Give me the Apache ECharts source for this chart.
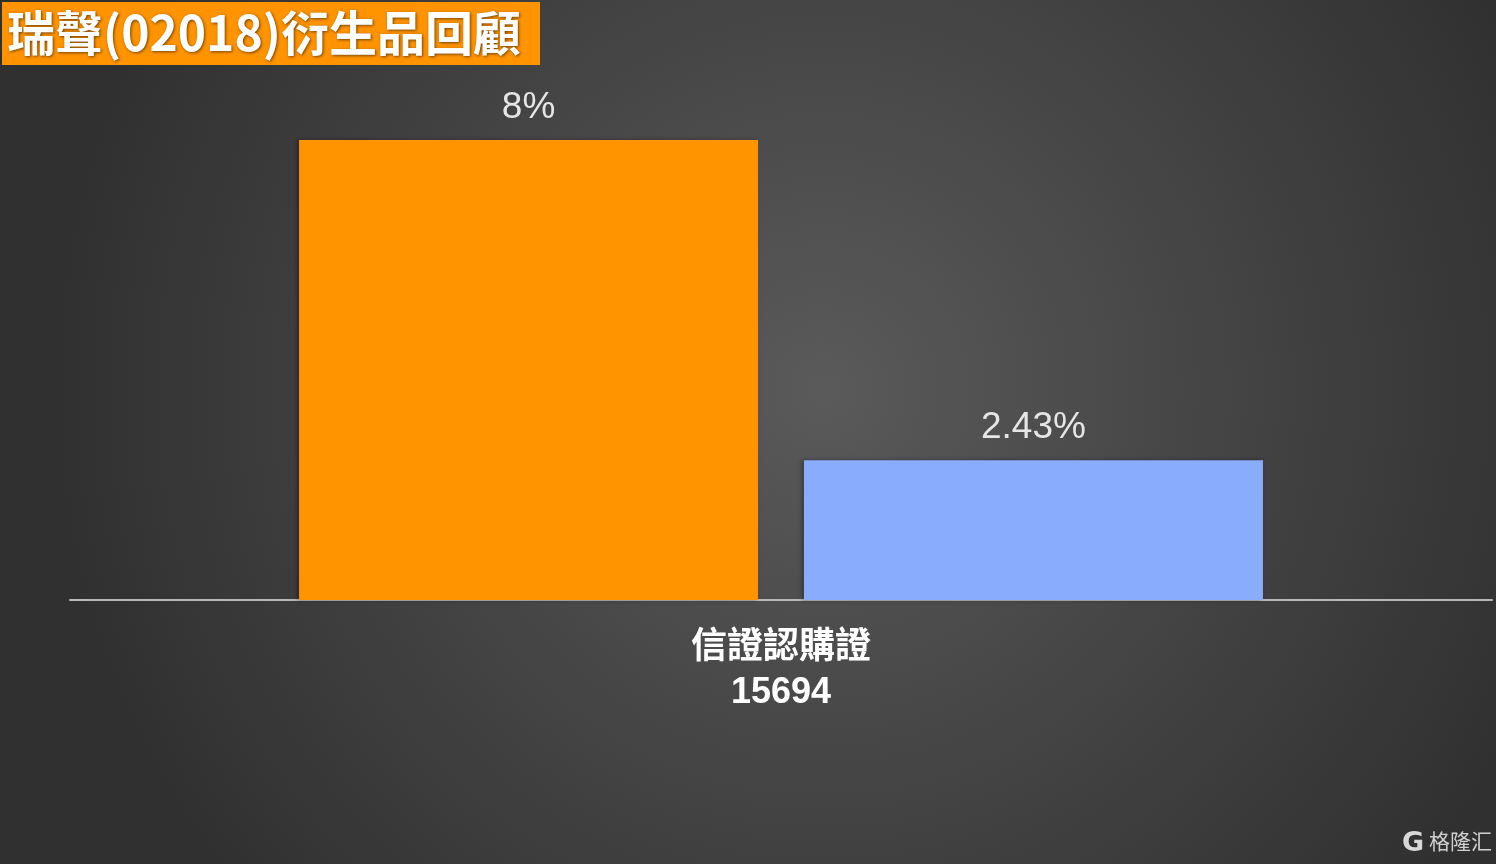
<!DOCTYPE html>
<html>
<head>
<meta charset="utf-8">
<script src="https://cdn.jsdelivr.net/npm/echarts@6/dist/echarts.min.js"></script>
<style>
html,body{margin:0;padding:0;background:#333;}
#c{width:1496px;height:864px;}
</style>
</head>
<body>
<div id="c"></div>
<script>
const categories = ['信證認購證\n15694'];
const seriesA = [8];
const seriesB = [2.43];
const titleText = '瑞聲(02018)衍生品回顧';
const watermark = '格隆汇';

const chart = echarts.init(document.getElementById('c'));
chart.setOption({
  backgroundColor: {
    type: 'radial', x: 0.55, y: 0.45, r: 0.9,
    colorStops: [
      {offset: 0, color: '#5a5a5a'},
      {offset: 1, color: '#303030'}
    ]
  },
  animation: false,
  grid: {left: 70, right: 4, top: 140, bottom: 264},
  xAxis: {
    type: 'category',
    data: categories,
    axisLine: {show: true, lineStyle: {color: '#b8b8b8', width: 2}},
    axisTick: {show: false},
    axisLabel: {
      color: '#ffffff', fontSize: 36, fontWeight: 'bold', lineHeight: 45,
      margin: 26, fontFamily: '"Liberation Sans", "Noto Sans CJK TC", sans-serif'
    }
  },
  yAxis: {
    type: 'value', min: 0, max: 8,
    show: false,
    splitLine: {show: false}
  },
  series: [
    {
      type: 'bar', data: seriesA, barWidth: 459, barGap: '10%',
      itemStyle: {color: '#ff9300', shadowColor: 'rgba(0,0,0,0.35)', shadowBlur: 4, shadowOffsetX: -2},
      label: {show: true, position: 'top', distance: 14, formatter: '{c}%',
        color: '#e6e6e6', fontSize: 37, fontFamily: '"Liberation Sans", Arial, sans-serif'}
    },
    {
      type: 'bar', data: seriesB, barWidth: 459,
      itemStyle: {color: '#8aacfd', shadowColor: 'rgba(0,0,0,0.35)', shadowBlur: 4, shadowOffsetX: -2},
      label: {show: true, position: 'top', distance: 14, formatter: '{c}%',
        color: '#e6e6e6', fontSize: 37, fontFamily: '"Liberation Sans", Arial, sans-serif'}
    }
  ],
  graphic: [
    {type: 'rect', left: 2, top: 2, shape: {width: 538, height: 63}, style: {fill: '#ff9300'}},
    {type: 'text', left: 7, top: 9, style: {
      text: titleText, fill: '#ffffff', fontSize: 48, fontWeight: 'bold',
      fontFamily: '"Noto Sans CJK TC", "Liberation Sans", sans-serif',
      textShadowColor: 'rgba(0,0,0,0.55)', textShadowBlur: 3, textShadowOffsetX: 1, textShadowOffsetY: 1
    }},
    {type: 'text', left: 1402, top: 830, style: {
      text: 'G', fill: '#d8d8d8', fontSize: 27, fontWeight: 'bold',
      fontFamily: '"DejaVu Sans", sans-serif'
    }},
    {type: 'text', left: 1429, top: 831, style: {
      text: watermark, fill: '#d0d0d0', fontSize: 21,
      fontFamily: '"Noto Sans CJK SC", sans-serif'
    }}
  ]
});
</script>
</body>
</html>
